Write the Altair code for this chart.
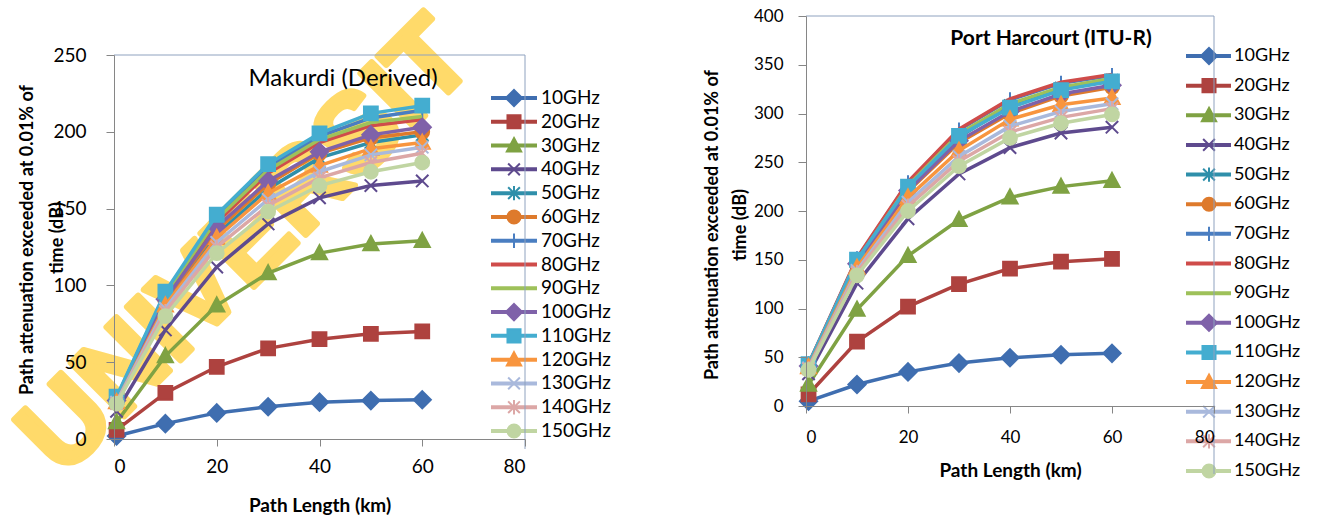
import altair as alt
import pandas as pd

# ---------------- data ----------------
DIST = [0.5, 10, 20, 30, 40, 50, 60]
FREQS = ["10GHz", "20GHz", "30GHz", "40GHz", "50GHz", "60GHz", "70GHz", "80GHz",
         "90GHz", "100GHz", "110GHz", "120GHz", "130GHz", "140GHz", "150GHz"]

MAKURDI = {
    "10GHz": [2, 10, 17, 21, 24, 25, 25.5],
    "20GHz": [6, 30, 47, 59, 65, 68.5, 70],
    "30GHz": [11, 54, 87, 108, 121, 127, 129],
    "40GHz": [18, 71, 112, 140, 157, 165, 168],
    "50GHz": [24, 88, 133, 163, 183, 193, 198],
    "60GHz": [25, 90, 136, 166, 186, 196, 200],
    "70GHz": [27, 95, 144, 177, 197, 209, 214],
    "80GHz": [26, 93, 141, 173, 193, 204, 208],
    "90GHz": [26, 94, 143, 175, 195, 206, 210],
    "100GHz": [25, 91, 138, 168, 187, 198, 203],
    "110GHz": [27.5, 96, 146, 179, 199, 212, 217],
    "120GHz": [24, 87, 131, 160, 178, 189, 193],
    "130GHz": [24, 85, 128, 156, 174, 185, 190],
    "140GHz": [23, 83, 125, 152, 170, 180, 186],
    "150GHz": [23, 80, 121, 148, 165, 174, 180],
}

PORT_HARCOURT = {
    "10GHz": [5, 22, 35, 44, 49.5, 52.5, 54],
    "20GHz": [12, 66, 102, 125, 141, 148, 151],
    "30GHz": [22, 99, 154, 191, 214, 225, 231],
    "40GHz": [33, 126, 192, 238, 265, 280, 286],
    "50GHz": [42, 148, 224, 276, 308, 326, 334],
    "60GHz": [41, 145, 220, 270, 300, 318, 327],
    "70GHz": [43, 151, 229, 283, 314, 331, 339],
    "80GHz": [43, 152, 230, 284, 315, 332, 340],
    "90GHz": [42, 149, 226, 279, 310, 327, 336],
    "100GHz": [41, 146, 221, 272, 302, 320, 329],
    "110GHz": [43, 150, 225, 277, 306, 324, 333],
    "120GHz": [40, 142, 214, 262, 294, 309, 316],
    "130GHz": [39, 139, 209, 256, 287, 302, 310],
    "140GHz": [38, 137, 205, 251, 281, 296, 305],
    "150GHz": [37, 134, 200, 246, 275, 290, 299],
}

X_TICKS = [0, 20, 40, 60, 80]
Y_TICKS_LEFT = [0, 50, 100, 150, 200, 250]
Y_TICKS_RIGHT = [0, 50, 100, 150, 200, 250, 300, 350, 400]

TITLE_LEFT = "Makurdi (Derived)"
TITLE_RIGHT = "Port Harcourt (ITU-R)"
Y_TITLE_1 = "Path attenuation  exceeded at 0.01% of"
Y_TITLE_2 = "time (dB)"
X_TITLE = "Path Length (km)"
WATERMARK = "UNIVERSIT"

# ---------------- styles ----------------
COLORS = ["#3F6EB0", "#AE423F", "#7FA243", "#5E4A8E", "#2F8FAA", "#DE7A2C", "#4A7EC1",
          "#CF4C4A", "#9EC15A", "#7F62A9", "#44ADD0", "#F8953E", "#A9B9DC", "#DCA7A6", "#C0D5A2"]
DIAMOND = "M0,-1.25L1.25,0L0,1.25L-1.25,0Z"
SQUARE = "M-1,-1L1,-1L1,1L-1,1Z"
TRIANGLE = "M0,-1.15L1.1,0.9L-1.1,0.9Z"
XMARK = "M-0.9,-0.9L0.9,0.9M-0.9,0.9L0.9,-0.9"
STAR = "M-0.9,-0.9L0.9,0.9M-0.9,0.9L0.9,-0.9M0,-1.1L0,1.1"
PLUS = "M0,-1.1L0,1.1M-0.6,0L0.6,0"
NONE = "M0,0"
SHAPES = [DIAMOND, SQUARE, TRIANGLE, XMARK, STAR, "circle", PLUS, NONE, NONE,
          DIAMOND, SQUARE, TRIANGLE, XMARK, STAR, "circle"]
HAS_MARKER = [s != NONE for s in SHAPES]

FONT = "Lato"
AXIS_COLOR = "#868686"
FRAME_COLOR = "#8FA2BF"
WATERMARK_COLOR = "#FFDA6A"

color_scale = alt.Scale(domain=FREQS, range=COLORS)
shape_scale = alt.Scale(domain=FREQS, range=SHAPES)


def long_df(table):
    rows = []
    for f in FREQS:
        for d, v in zip(DIST, table[f]):
            rows.append({"freq": f, "dist": d, "val": v})
    return pd.DataFrame(rows)


def text_layer(text, x, y, size, bold=False, angle=0, color="black", font=FONT, stroke=0):
    kw = dict(align="center", baseline="middle", fontSize=size, font=font,
              fontWeight="bold" if bold else "normal", angle=angle, color=color)
    if stroke:
        kw.update(stroke=color, strokeWidth=stroke, strokeJoin="round")
    return alt.Chart(pd.DataFrame({"t": [text]})).mark_text(**kw).encode(
        x=alt.value(x), y=alt.value(y), text="t:N")


def rule_layer(x, y, x2=None, y2=None):
    enc = {"x": alt.value(x), "y": alt.value(y)}
    if x2 is not None:
        enc["x2"] = alt.value(x2)
    if y2 is not None:
        enc["y2"] = alt.value(y2)
    return alt.Chart(pd.DataFrame({"a": [0]})).mark_rule(
        color=FRAME_COLOR, strokeWidth=1).encode(**enc)


def panel(table, ymax, yticks, yrange, tick_font, x_lab_pad, x_title_pad, y_lab_pad, msize):
    df = long_df(table)
    xenc = alt.X("dist:Q", scale=alt.Scale(domain=[0, 80], nice=False),
                 axis=alt.Axis(values=X_TICKS, grid=False, tickSize=7, labelPadding=x_lab_pad,
                               labelFontSize=tick_font, labelFont=FONT, labelColor="black",
                               domainColor=AXIS_COLOR, tickColor=AXIS_COLOR, title=X_TITLE,
                               titleFont=FONT, titleFontSize=19, titleFontWeight="bold",
                               titleColor="black", titlePadding=x_title_pad, zindex=1))
    if yrange is not None:
        yscale = alt.Scale(domain=[0, ymax], nice=False, range=yrange)
    else:
        yscale = alt.Scale(domain=[0, ymax], nice=False)
    yenc = alt.Y("val:Q", scale=yscale,
                 axis=alt.Axis(values=yticks, grid=False, tickSize=8, labelPadding=y_lab_pad,
                               labelFontSize=tick_font, labelFont=FONT, labelColor="black",
                               domainColor=AXIS_COLOR, tickColor=AXIS_COLOR, title=None,
                               zindex=1))
    layers = []
    for f, has in zip(FREQS, HAS_MARKER):
        base = alt.Chart().transform_filter(alt.datum.freq == f)
        layers.append(base.mark_line(strokeWidth=3.5).encode(
            x=xenc, y=yenc, color=alt.Color("freq:N", scale=color_scale, legend=None)))
        if has:
            layers.append(base.mark_point(filled=True, size=msize, strokeWidth=2, opacity=1).encode(
                x=xenc, y=yenc,
                color=alt.Color("freq:N", scale=color_scale, legend=None),
                stroke=alt.Stroke("freq:N", scale=color_scale, legend=None),
                shape=alt.Shape("freq:N", scale=shape_scale, legend=None)))
    return alt.layer(*layers, data=df)


def legend(y0, y1, rx0, rx1, mx, tx, font_size, msize):
    ldf = pd.DataFrame({"freq": FREQS, "idx": list(range(len(FREQS))), "has": HAS_MARKER})
    yenc = alt.Y("idx:Q", scale=alt.Scale(domain=[0, len(FREQS) - 1], range=[y0, y1], nice=False,
                                          zero=False), axis=None)
    base = alt.Chart()
    rule = base.mark_rule(strokeWidth=4).encode(
        y=yenc, x=alt.value(rx0), x2=alt.value(rx1),
        color=alt.Color("freq:N", scale=color_scale, legend=None))
    pts = base.transform_filter(alt.datum.has).mark_point(
        filled=True, size=msize, strokeWidth=2, opacity=1).encode(
        y=yenc, x=alt.value(mx),
        color=alt.Color("freq:N", scale=color_scale, legend=None),
        stroke=alt.Stroke("freq:N", scale=color_scale, legend=None),
        shape=alt.Shape("freq:N", scale=shape_scale, legend=None))
    txt = base.mark_text(align="left", baseline="middle", fontSize=font_size, font=FONT,
                         color="black").encode(y=yenc, x=alt.value(tx), text="freq:N")
    return alt.layer(rule, pts, txt, data=ldf)


# ---------------- left panel (Makurdi) ----------------
W1, H1 = 411, 423
left = alt.layer(
    text_layer(WATERMARK, 133, 231, 110, bold=True, angle=315, color=WATERMARK_COLOR,
               font="Liberation Sans", stroke=6),
    panel(MAKURDI, 250, Y_TICKS_LEFT, [423, 39], 19, 11, 20, 20, 190),
    legend(82, 415, 377, 423, 400, 427, 19, 170),
    rule_layer(0, 39, x2=W1),
    rule_layer(W1, 39, y2=433),
    text_layer(TITLE_LEFT, 229, 63, 24),
    text_layer(Y_TITLE_1, -86, 224, 18, bold=True, angle=270),
    text_layer(Y_TITLE_2, -56, 222, 18, bold=True, angle=270),
).resolve_scale(y="independent").properties(width=W1, height=H1)

# ---------------- right panel (Port Harcourt) ----------------
W2, H2 = 408, 390
right = alt.layer(
    panel(PORT_HARCOURT, 400, Y_TICKS_RIGHT, None, 17, 16, 16, 15, 190),
    legend(40, 455, 380, 425, 403, 428, 18, 170),
    rule_layer(0, 0, x2=W2),
    rule_layer(W2, 0, y2=458),
    text_layer(TITLE_RIGHT, 245, 23, 21, bold=True),
    text_layer(Y_TITLE_1, -93, 209, 18, bold=True, angle=270),
    text_layer(Y_TITLE_2, -65, 209, 18, bold=True, angle=270),
).resolve_scale(y="independent").properties(width=W2, height=H2)

chart = alt.hconcat(left, right, spacing=281, bounds="flush").properties(
    padding=0, background="white"
).configure_view(strokeWidth=0)

chart.save("out.html", embed_options={"renderer": "svg", "actions": False})
